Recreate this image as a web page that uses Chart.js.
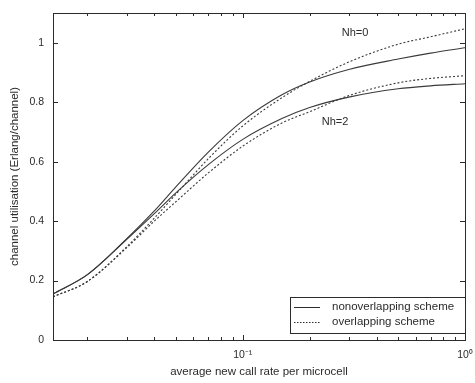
<!DOCTYPE html>
<html>
<head>
<meta charset="utf-8">
<script src="https://cdn.jsdelivr.net/npm/chart.js@4/dist/chart.umd.min.js"></script>
<style>
  html, body { margin: 0; padding: 0; background: #fff; }
  #wrap { width: 475px; height: 383px; }
</style>
</head>
<body>
<div id="wrap"><canvas id="util"></canvas></div>
<script>
// average new call rate per microcell (log axis)
const callRate = [0.014, 0.02, 0.03, 0.04, 0.05, 0.07, 0.1, 0.15, 0.2, 0.3, 0.5, 0.7, 1.0];

// channel utilisation (Erlang/channel)
const nonOverlapNh0 = [0.155, 0.22, 0.34, 0.434, 0.515, 0.632, 0.738, 0.825, 0.868, 0.91, 0.945, 0.965, 0.983];
const overlapNh0    = [0.145, 0.197, 0.313, 0.41, 0.49, 0.61, 0.72, 0.815, 0.87, 0.935, 0.995, 1.02, 1.047];
const nonOverlapNh2 = [0.155, 0.22, 0.338, 0.425, 0.495, 0.59, 0.675, 0.745, 0.782, 0.817, 0.845, 0.855, 0.862];
const overlapNh2    = [0.145, 0.197, 0.31, 0.40, 0.465, 0.562, 0.652, 0.73, 0.768, 0.822, 0.865, 0.88, 0.889];

const xTicks = [0.1, 1];
const xTickLabels = ['10\u207B\u00B9', '10\u2070'];
const yTicks = [0, 0.2, 0.4, 0.6, 0.8, 1];
const yTickLabels = ['0', '0.2', '0.4', '0.6', '0.8', '1'];

const legendLabels = ['nonoverlapping scheme', 'overlapping scheme'];
const curveNotes = ['Nh=0', 'Nh=2'];
const noteAt = [[0.32, 1.034], [0.26, 0.734]];

const ink = '#2b2b2b';
const lineInk = '#3a3a3a';
const font = '"Liberation Sans", Arial, sans-serif';

function pts(ys) {
    return callRate.map((x, i) => ({ x: x, y: ys[i] }));
}

function line(label, ys, dashed) {
    return {
        label: label,
        data: pts(ys),
        borderColor: lineInk,
        borderWidth: 1.1,
        borderDash: dashed ? [2, 2] : [],
        pointRadius: 0,
        fill: false,
        cubicInterpolationMode: 'monotone'
    };
}

// frame, inward ticks, curve labels and legend box, matlab style
const frame = {
    id: 'frame',
    afterDraw(chart) {
        const c = chart.ctx;
        const a = chart.chartArea;
        const xs = chart.scales.x, ys = chart.scales.y;
        c.save();
        c.strokeStyle = ink;
        c.lineWidth = 1;
        c.strokeRect(a.left + 0.5, a.top + 0.5, a.right - a.left, a.bottom - a.top);

        c.beginPath();
        yTicks.forEach(v => {
            const y = Math.round(ys.getPixelForValue(v)) + 0.5;
            c.moveTo(a.left, y); c.lineTo(a.left + 5, y);
            c.moveTo(a.right, y); c.lineTo(a.right - 5, y);
        });
        for (let d = 0.01; d < 1; d *= 10) {
            for (let k = 1; k <= 10; k++) {
                const v = d * k;
                if (v < xs.min || v > xs.max) continue;
                const len = (k === 1 || k === 10) ? 5 : 3;
                const x = Math.round(xs.getPixelForValue(v)) + 0.5;
                c.moveTo(x, a.bottom); c.lineTo(x, a.bottom - len);
                c.moveTo(x, a.top); c.lineTo(x, a.top + len);
            }
        }
        c.stroke();

        c.fillStyle = ink;
        c.font = '11px ' + font;
        c.textAlign = 'center';
        c.textBaseline = 'middle';
        curveNotes.forEach((t, i) => {
            c.fillText(t, xs.getPixelForValue(noteAt[i][0]), ys.getPixelForValue(noteAt[i][1]));
        });

        // legend box in the lower right corner
        const bw = 175, bh = 36;
        const bx = a.right - bw, by = a.bottom - bh - 7;
        c.fillStyle = '#fff';
        c.fillRect(bx, by, bw, bh);
        c.strokeRect(bx + 0.5, by + 0.5, bw, bh);
        c.textAlign = 'left';
        c.fillStyle = ink;
        c.font = '11.5px ' + font;
        legendLabels.forEach((t, i) => {
            const y = by + 10 + i * 15;
            c.beginPath();
            c.setLineDash(i === 0 ? [] : [1.5, 1.5]);
            c.moveTo(bx + 4, y + 0.5); c.lineTo(bx + 30, y + 0.5);
            c.stroke();
            c.setLineDash([]);
            c.fillText(t, bx + 42, y);
        });
        c.restore();
    }
};

new Chart(document.getElementById('util'), {
    type: 'line',
    data: {
        datasets: [
            line('nonoverlapping Nh=0', nonOverlapNh0, false),
            line('overlapping Nh=0', overlapNh0, true),
            line('nonoverlapping Nh=2', nonOverlapNh2, false),
            line('overlapping Nh=2', overlapNh2, true)
        ]
    },
    options: {
        responsive: true,
        maintainAspectRatio: false,
        animation: false,
        layout: { padding: { top: 13, right: 10, left: 0, bottom: 0 } },
        plugins: { legend: { display: false }, tooltip: { enabled: false } },
        scales: {
            x: {
                type: 'logarithmic',
                min: 0.014,
                max: 1,
                grid: { display: false, drawTicks: false },
                border: { display: false },
                afterBuildTicks: s => { s.ticks = xTicks.map(v => ({ value: v })); },
                afterFit: s => { s.height = 43; s.paddingLeft = 0; s.paddingRight = 0; },
                ticks: {
                    color: ink,
                    padding: 9,
                    maxRotation: 0,
                    font: { family: font, size: 10.5 },
                    callback: (v) => xTickLabels[xTicks.indexOf(v)]
                },
                title: {
                    display: true,
                    text: 'average new call rate per microcell',
                    color: ink,
                    padding: { top: 0, bottom: 4 },
                    font: { family: font, size: 11.5 }
                }
            },
            y: {
                min: 0,
                max: 1.1,
                grid: { display: false, drawTicks: false },
                border: { display: false },
                afterBuildTicks: s => { s.ticks = yTicks.map(v => ({ value: v })); },
                afterFit: s => { s.width = 53; s.paddingTop = 0; s.paddingBottom = 0; },
                ticks: {
                    color: ink,
                    padding: 9,
                    font: { family: font, size: 10.5 },
                    callback: (v) => yTickLabels[yTicks.indexOf(v)]
                },
                title: {
                    display: true,
                    text: 'channel utilisation (Erlang/channel)',
                    color: ink,
                    padding: { top: 8, bottom: 0 },
                    font: { family: font, size: 11.5 }
                }
            }
        }
    },
    plugins: [frame]
});
</script>
</body>
</html>
